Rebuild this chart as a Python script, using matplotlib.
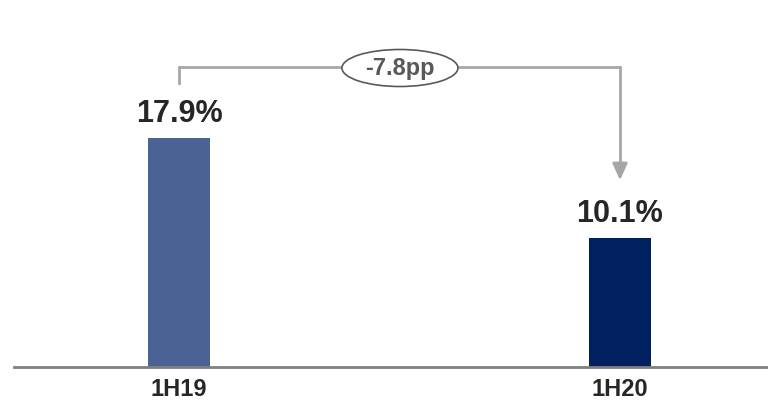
import matplotlib
matplotlib.use("Agg")
import matplotlib.pyplot as plt
from matplotlib.patches import Ellipse

# chart data
periods = ["1H19", "1H20"]
values = [17.9, 10.1]
value_labels = ["17.9%", "10.1%"]
change_label = "-7.8pp"

BAR_COLORS = ["#4A6394", "#002060"]
TEXT_COLOR = "#262626"
LINE_GRAY = "#A6A6A6"

plt.rcParams["font.family"] = ["Liberation Sans", "DejaVu Sans"]

fig = plt.figure(figsize=(7.68, 4.04), dpi=100)
W, H = 768, 404
base_px = 367
ax = fig.add_axes([14 / W, (H - base_px) / H, (W - 14) / W, base_px / H])

x = list(range(len(periods)))
ax.bar(x, values, width=0.14, color=BAR_COLORS, zorder=2)

ppu = 441.0     # px per x unit
ypx = 12.8      # px per y unit
ax.set_xlim((14 - 179) / ppu, (768 - 179) / ppu)
ax.set_ylim(0, base_px / ypx)

for xi, v, lab in zip(x, values, value_labels):
    ax.annotate(lab, (xi, v), xytext=(0, 6.5), textcoords="offset points",
                ha="center", va="bottom", fontsize=22, fontweight="bold",
                color=TEXT_COLOR)

# bracket with arrow showing the change
def py(px):
    return (base_px - px) / ypx

y_top = py(67)
ax.plot([x[0], x[0], x[1], x[1]], [py(83), y_top, y_top, py(170)],
        color=LINE_GRAY, lw=2, solid_joinstyle="miter", zorder=1)
ax.annotate("", xy=(x[1], py(183)), xytext=(x[1], py(168)),
            arrowprops=dict(arrowstyle="-|>,head_width=0.45,head_length=1.0",
                            color=LINE_GRAY, lw=2))
cx = (x[0] + x[1]) / 2 + 0.001
ax.add_patch(Ellipse((cx, py(68)), 116 / ppu, 37 / ypx, facecolor="white",
                     edgecolor="#595959", lw=1.2, zorder=3))
ax.text(cx, py(68), change_label, ha="center", va="center", fontsize=17,
        fontweight="bold", color="#595959", zorder=4)

for s in ["top", "right", "left"]:
    ax.spines[s].set_visible(False)
ax.spines["bottom"].set_color("#808080")
ax.spines["bottom"].set_linewidth(2)
ax.set_yticks([])
ax.set_xticks(x)
ax.set_xticklabels(periods, fontsize=17, fontweight="bold", color=TEXT_COLOR)
ax.tick_params(axis="x", length=0, pad=8)

fig.savefig("out.png", dpi=100)
